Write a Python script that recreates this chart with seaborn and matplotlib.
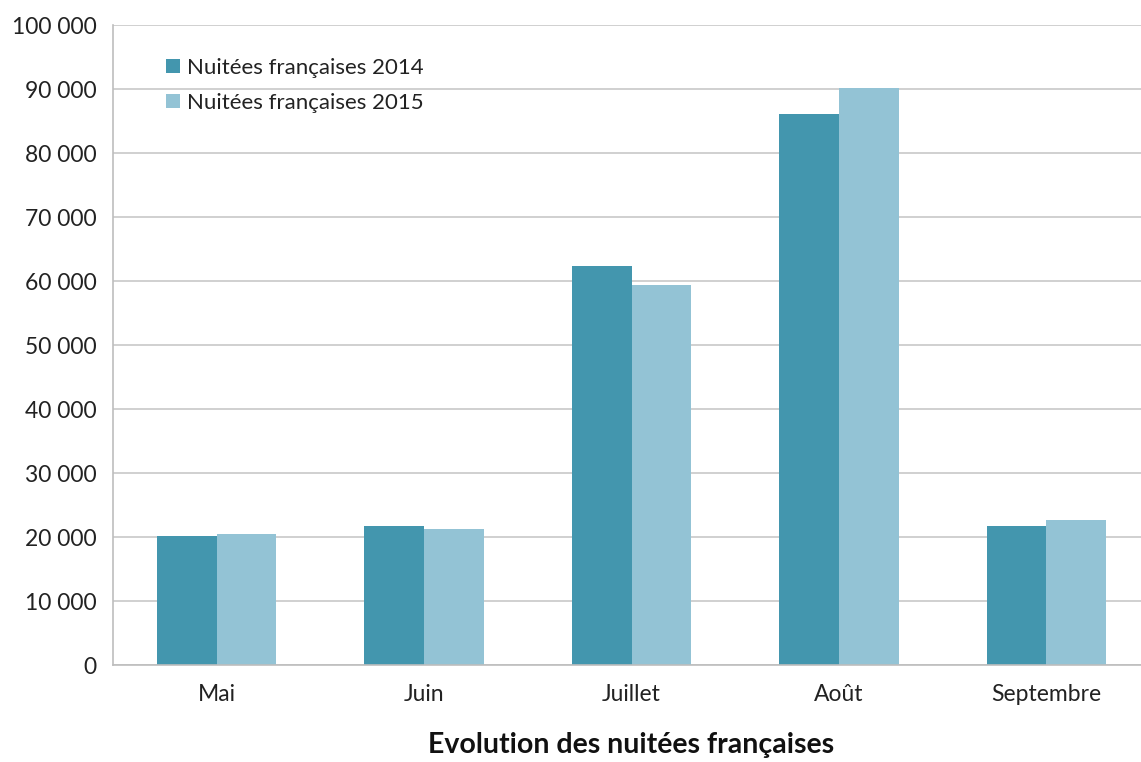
import seaborn as sns
import numpy as np
import pandas as pd
import matplotlib.pyplot as plt
from matplotlib.ticker import FuncFormatter, FixedLocator

months = ["Mai", "Juin", "Juillet", "Août", "Septembre"]
nuitees_2014 = [20200, 21700, 62400, 86100, 21700]
nuitees_2015 = [20500, 21250, 59400, 90200, 22600]
series = ["Nuitées françaises 2014", "Nuitées françaises 2015"]
colors = ["#4396AE", "#93C3D5"]

df = pd.DataFrame(
    {
        "mois": months * 2,
        "nuitees": nuitees_2014 + nuitees_2015,
        "serie": [series[0]] * len(months) + [series[1]] * len(months),
    }
)


def plot_nuitees():
    sns.set_style("white")
    plt.rcParams["font.family"] = ["Lato", "DejaVu Sans"]
    fig = plt.figure(figsize=(11.41, 7.62), dpi=100)
    ax = fig.add_axes([113 / 1141, 97 / 762, 1037 / 1141, 640 / 762])

    sns.barplot(
        data=df,
        x="mois",
        y="nuitees",
        hue="serie",
        palette=colors,
        width=0.575,
        gap=0,
        saturation=1,
        linewidth=0,
        ax=ax,
    )

    ax.set_ylim(0, 100000)
    ax.set_xlim(-0.5, len(months) - 0.5)
    ax.set_yticks(np.arange(0, 100001, 10000))
    ax.yaxis.set_major_formatter(
        FuncFormatter(lambda v, _: f"{int(v):,}".replace(",", " "))
    )
    ax.grid(axis="y", color="#C8C8C8", linewidth=1.2)
    ax.set_axisbelow(True)

    for side in ["top", "right"]:
        ax.spines[side].set_visible(False)
    for side in ["left", "bottom"]:
        ax.spines[side].set_color("#BDBDBD")
        ax.spines[side].set_linewidth(1.2)

    ax.tick_params(axis="y", length=8, color="#BDBDBD", width=1.2,
                   labelsize=16.5, labelcolor="#222222", pad=4)
    ax.tick_params(axis="x", which="major", length=0, labelsize=16.5,
                   labelcolor="#222222", pad=14)
    ax.xaxis.set_minor_locator(FixedLocator(np.arange(-0.5, len(months), 1.0)))
    ax.tick_params(axis="x", which="minor", length=8, color="#BDBDBD", width=1.2)

    ax.set_ylabel("")
    ax.set_xlabel("Evolution des nuitées françaises", fontsize=20.5,
                  fontweight="bold", color="#111111", labelpad=19)

    leg = ax.legend(
        loc="upper left",
        bbox_to_anchor=(0.032, 0.98),
        frameon=False,
        fontsize=16,
        handlelength=0.6,
        handleheight=0.6,
        handletextpad=0.35,
        labelspacing=0.68,
    )
    for t in leg.get_texts():
        t.set_color("#222222")

    fig.savefig("out.png", dpi=100)


if __name__ == "__main__":
    plot_nuitees()
